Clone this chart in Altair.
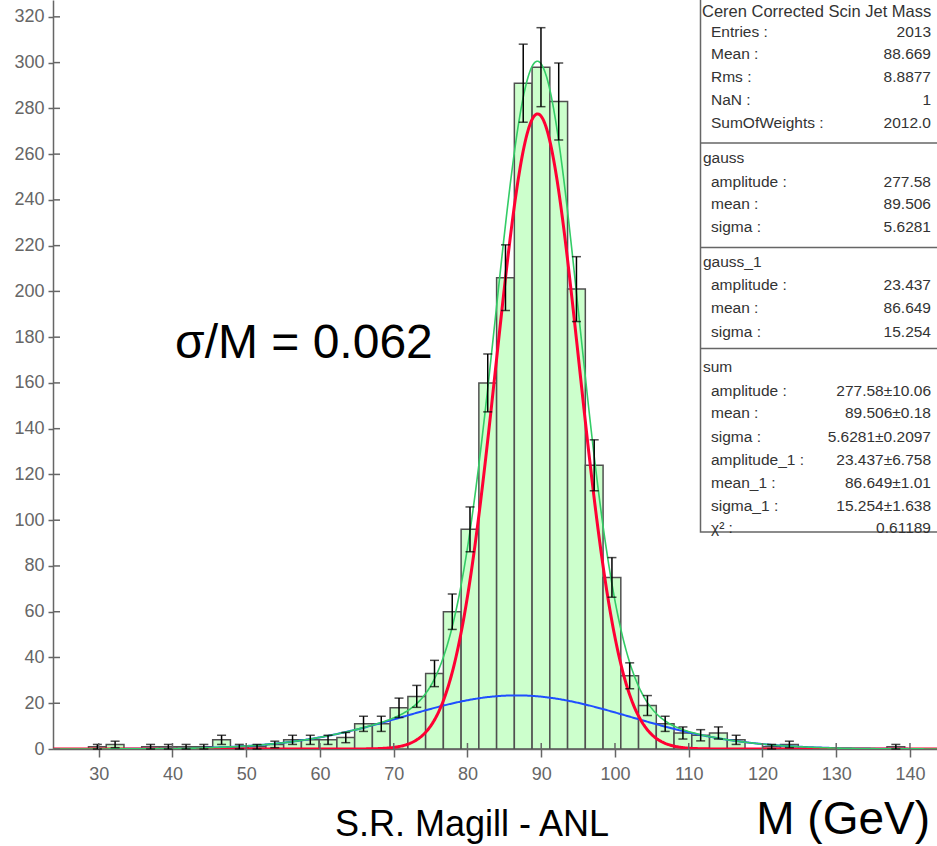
import altair as alt
import numpy as np
import pandas as pd

# ---------------- data ----------------
bin_low = 23.8          # lower edge of first bin (GeV)
bin_width = 2.406       # bin width (GeV)
counts = [0, 0, 1, 2, 0, 1, 1, 1, 1, 4,
          1, 1, 2, 4, 4, 4, 5, 11, 11, 18,
          23, 33, 60, 96, 160, 206, 291, 298, 283, 201,
          124, 75, 32, 19, 11, 7, 6, 7, 4, 0,
          1, 2, 0, 0, 0, 0, 0, 1, 0, 0]

# fit parameters shown in the stats box
gauss_par = [277.58, 89.506, 5.6281]     # amplitude, mean, sigma
gauss1_par = [23.437, 86.649, 15.254]

x_ticks = [30, 40, 50, 60, 70, 80, 90, 100, 110, 120, 130, 140]
y_ticks = list(range(0, 321, 20))

stats_labels = ["Ceren Corrected Scin Jet Mass", "Entries :", "Mean :", "Rms :", "NaN :",
                "SumOfWeights :", "gauss", "amplitude :", "mean :", "sigma :",
                "gauss_1", "amplitude :", "mean :", "sigma :", "sum", "amplitude :",
                "mean :", "sigma :", "amplitude_1 :", "mean_1 :", "sigma_1 :", "χ² :"]
stats_values = ["", "2013", "88.669", "8.8877", "1", "2012.0", "", "277.58", "89.506",
                "5.6281", "", "23.437", "86.649", "15.254", "", "277.58±10.06",
                "89.506±0.18", "5.6281±0.2097", "23.437±6.758", "86.649±1.01",
                "15.254±1.638", "0.61189"]
stats_header = [True, False, False, False, False, False, True, False, False, False,
                True, False, False, False, True, False, False, False, False, False,
                False, False]

# ---------------- layout (pixels) ----------------
row_py = [11.7, 31.7, 54, 77.3, 100, 123.3, 158.3, 181.7, 204, 226.7, 262, 285,
          308.3, 331.7, 367.3, 391, 413.3, 436.7, 460, 482.7, 505.7, 528.3]
sep_py = [143, 247.5, 348.5]
PAD_L = 53
W, H = 937 - PAD_L, 749
X_DOM = [23.8, 23.8 + W / 7.375]
Y_DOM = [0, H / 2.288]

# ---------------- tables ----------------
k = np.arange(len(counts))
n = np.array(counts, dtype=float)
hist = pd.DataFrame({"x0": bin_low + bin_width * k,
                     "x1": bin_low + bin_width * (k + 1),
                     "xc": bin_low + bin_width * (k + 0.5),
                     "n": n})
hist_nz = hist[hist.n > 0].copy()
hist_nz["elo"] = hist_nz.n - np.sqrt(hist_nz.n)
hist_nz["ehi"] = hist_nz.n + np.sqrt(hist_nz.n)

xs = np.linspace(X_DOM[0], X_DOM[1], 900)
def g(x, p):
    return p[0] * np.exp(-0.5 * ((x - p[1]) / p[2]) ** 2)
curves = pd.DataFrame({"x": xs, "red": g(xs, gauss_par), "blue": g(xs, gauss1_par)})
curves["green"] = curves.red + curves.blue

stats = pd.DataFrame({"label": stats_labels, "value": stats_values,
                      "hdr": stats_header, "py": row_py})
stats["title"] = [i == 0 for i in range(len(stats))]

FONT = "Liberation Sans"
xs_ = alt.Scale(domain=X_DOM, nice=False, zero=False)
ys_ = alt.Scale(domain=Y_DOM, nice=False, zero=False)
x_axis = alt.Axis(values=x_ticks, title=None, grid=False, tickSize=8, labelPadding=8,
                  format="d")
y_axis = alt.Axis(values=y_ticks, title=None, grid=False, tickSize=5, labelPadding=4,
                  format="d")

def X(f):
    return alt.X(f, type="quantitative", scale=xs_, axis=x_axis)

def Y(f):
    return alt.Y(f, type="quantitative", scale=ys_, axis=y_axis)

bars = alt.Chart(hist_nz).mark_bar(fill="#ccffcc", stroke="#505050", strokeWidth=1.5,
                                   clip=True).encode(
    x=X("x0"), x2="x1", y=Y("n"), y2=alt.datum(0))

def curve(col, color, w):
    return alt.Chart(curves).mark_line(color=color, strokeWidth=w, clip=True).encode(
        x=X("x"), y=Y(col))

err = alt.Chart(hist_nz).mark_rule(color="black", strokeWidth=1.5).encode(
    x=X("xc"), y=Y("elo"), y2="ehi")
cap_hi = alt.Chart(hist_nz).mark_tick(orient="horizontal", size=9, thickness=1.5,
                                      color="black").encode(x=X("xc"), y=Y("ehi"))
cap_lo = alt.Chart(hist_nz).mark_tick(orient="horizontal", size=9, thickness=1.5,
                                      color="black").encode(x=X("xc"), y=Y("elo"))

ytk = alt.Chart(pd.DataFrame({"v": y_ticks})).mark_rule(color="#666", strokeWidth=1.5).encode(
    y=Y("v"), x=alt.value(0), x2=alt.value(7))
xtk = alt.Chart(pd.DataFrame({"v": x_ticks})).mark_rule(color="#666", strokeWidth=1.5).encode(
    x=X("v"), y=alt.value(H - 6), y2=alt.value(H))

one = pd.DataFrame({"a": [0]})
box = alt.Chart(one).mark_rect(fill="white", stroke="#666", strokeWidth=1.5).encode(
    x=alt.value(647.5), x2=alt.value(900), y=alt.value(-2), y2=alt.value(532))
seps = [alt.Chart(one).mark_rule(color="#666", strokeWidth=1.5).encode(
    x=alt.value(647.5), x2=alt.value(900), y=alt.value(p)) for p in sep_py]

ttl_txt = alt.Chart(stats[stats.title]).mark_text(
    align="left", baseline="middle", font=FONT, fontSize=16.5, color="#333").encode(
    x=alt.value(649), y=alt.Y("py:Q", scale=None), text="label:N")
hdr_txt = alt.Chart(stats[stats.hdr & ~stats.title]).mark_text(
    align="left", baseline="middle", font=FONT, fontSize=15.5, color="#333").encode(
    x=alt.value(650), y=alt.Y("py:Q", scale=None), text="label:N")
lab_txt = alt.Chart(stats[~stats.hdr]).mark_text(
    align="left", baseline="middle", font=FONT, fontSize=15.5, color="#333").encode(
    x=alt.value(658), y=alt.Y("py:Q", scale=None), text="label:N")
val_txt = alt.Chart(stats[~stats.hdr]).mark_text(
    align="right", baseline="middle", font=FONT, fontSize=15.5, color="#333").encode(
    x=alt.value(878), y=alt.Y("py:Q", scale=None), text="value:N")

sig = alt.Chart(one).mark_text(align="left", baseline="alphabetic", font=FONT,
                               fontSize=48, color="black", text="σ/M = 0.062").encode(
    x=alt.value(122), y=alt.value(358))
mgev = alt.Chart(one).mark_text(align="right", baseline="alphabetic", font=FONT,
                                fontSize=46, color="black", text="M (GeV)").encode(
    x=alt.value(877), y=alt.value(834))
auth = alt.Chart(one).mark_text(align="left", baseline="alphabetic", font=FONT,
                                fontSize=36, color="black", text="S.R. Magill - ANL").encode(
    x=alt.value(282), y=alt.value(836))

chart = alt.layer(
    bars, curve("blue", "#1f4fff", 2), curve("red", "#ff0033", 3),
    curve("green", "#33cc66", 1.6), err, cap_hi, cap_lo, ytk, xtk,
    box, *seps, ttl_txt, hdr_txt, lab_txt, val_txt, sig, mgev, auth
).properties(
    width=W, height=H,
    padding={"left": PAD_L, "top": 0, "right": 0, "bottom": 846 - H},
    autosize=alt.AutoSizeParams(type="none"),
).configure_view(stroke=None).configure_axis(
    domainColor="#666", domainWidth=1.5, tickColor="#666", tickWidth=1.5,
    labelColor="#666", labelFont=FONT, labelFontSize=18,
)

chart.save("out.html", embed_options={"renderer": "svg", "actions": False})
